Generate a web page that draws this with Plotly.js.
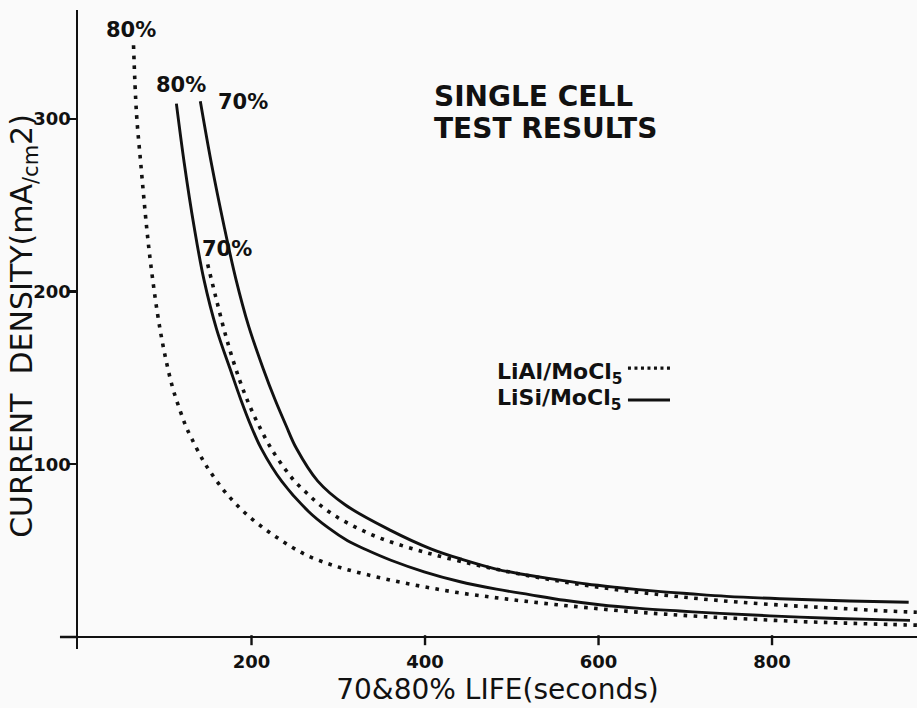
<!DOCTYPE html>
<html><head><meta charset="utf-8">
<script src="https://cdn.plot.ly/plotly-3.0.1.min.js"></script>
<style>html,body{margin:0;padding:0;background:#fafafa;}</style>
</head><body>
<div id="chart" style="width:917px;height:708px;"></div>
<script>
// LiAl/MoCl5, 80% life (dotted, leftmost)
const liAl80X = [64.0, 67.4, 72.3, 79.1, 83.7, 91.5, 99.0, 108.8, 117.3, 124.5, 131.6, 143.5, 152.9, 167.0, 179.9, 196.3, 214.9, 231.3, 248.7, 266.1, 285.9, 303.2, 324.1, 361.1, 399.2, 437.4, 476.7, 511.3, 549.4, 589.8, 635.9, 676.4, 722.5, 774.5, 832.2, 884.1, 936.0, 967.0];
const liAl80Y = [342.6, 303.3, 274.4, 237.3, 216.5, 187.6, 166.2, 144.8, 131.6, 121.8, 114.3, 102.8, 95.3, 85.5, 78.1, 70.1, 62.6, 56.9, 51.3, 46.7, 42.8, 40.0, 37.2, 32.8, 29.0, 25.7, 23.0, 20.9, 18.8, 16.8, 14.7, 13.2, 11.7, 10.3, 8.9, 8.0, 7.2, 6.8];
// LiAl/MoCl5, 70% life (dotted)
const liAl70X = [149.5, 158.6, 171.4, 185.9, 197.9, 208.6, 222.8, 238.2, 249.9, 263.9, 279.1, 300.1, 321.0, 340.7, 361.6, 398.6, 441.5, 491.2, 537.5, 583.7, 629.9, 676.1, 716.5, 762.6, 820.4, 872.3, 924.2, 966.9];
const liAl70Y = [215.7, 197.2, 172.4, 149.3, 133.8, 122.3, 109.0, 97.5, 90.1, 83.2, 76.3, 68.9, 63.3, 58.7, 54.8, 49.2, 43.7, 38.2, 33.8, 30.0, 26.8, 24.2, 22.1, 20.1, 18.1, 16.7, 15.2, 14.3];
// LiSi/MoCl5, 80% life (solid)
const liSi80X = [113.4, 122.4, 133.8, 145.1, 159.8, 175.4, 187.4, 199.4, 211.3, 234.9, 265.4, 288.7, 310.8, 331.7, 360.7, 399.0, 439.5, 482.3, 520.4, 560.9, 601.3, 647.5, 693.6, 739.8, 797.5, 866.7, 924.4, 959.0];
const liSi80Y = [308.8, 274.6, 237.6, 207.0, 178.1, 155.1, 137.8, 122.2, 109.0, 90.0, 72.8, 63.1, 55.7, 50.6, 44.4, 37.7, 32.1, 27.7, 24.5, 21.2, 18.6, 16.5, 15.0, 13.6, 12.2, 10.8, 10.0, 9.6];
// LiSi/MoCl5, 70% life (solid)
const liSi70X = [141.0, 153.5, 168.4, 182.0, 196.6, 213.5, 226.6, 239.8, 251.7, 276.4, 307.9, 360.3, 406.7, 442.6, 482.0, 508.5, 550.1, 586.0, 624.1, 665.6, 704.9, 747.6, 808.7, 889.5, 957.5];
const liSi70Y = [310.1, 274.8, 237.8, 207.2, 180.1, 155.3, 138.0, 122.4, 109.2, 90.2, 76.5, 61.7, 51.0, 44.9, 39.3, 36.6, 33.3, 30.6, 28.5, 26.5, 25.0, 23.5, 22.1, 20.8, 20.1];

const xTickVals = [200, 400, 600, 800];
const yTickVals = [100, 200, 300];
const seriesNames = ['LiAl/MoCl5 80%', 'LiAl/MoCl5 70%', 'LiSi/MoCl5 80%', 'LiSi/MoCl5 70%'];
const legendLabels = ['LiAl/MoCl<sub>5</sub>', 'LiSi/MoCl<sub>5</sub>'];
const curveLabels = ['80%', '80%', '70%', '70%'];

const ink = '#111111';
const bg = '#fafafa';
const dottedLine = {color: ink, width: 3.6, dash: '3.6px,6.4px', shape: 'spline', smoothing: 1};
const solidLine = {color: ink, width: 2.9, shape: 'spline', smoothing: 1};

const traces = [
  {x: liAl80X, y: liAl80Y, name: seriesNames[0], mode: 'lines', line: dottedLine},
  {x: liAl70X, y: liAl70Y, name: seriesNames[1], mode: 'lines', line: dottedLine},
  {x: liSi80X, y: liSi80Y, name: seriesNames[2], mode: 'lines', line: solidLine},
  {x: liSi70X, y: liSi70Y, name: seriesNames[3], mode: 'lines', line: solidLine}
];

const boldFont = (s) => ({family: 'DejaVu Sans', size: s, color: ink, weight: 'bold'});

const shapes = [];
// x-axis tick marks crossing the axis line
xTickVals.forEach(v => shapes.push({type: 'line', xref: 'x', yref: 'y', x0: v, x1: v, y0: 1, y1: -4.8, line: {color: ink, width: 2.4}}));
// left overhang of the x-axis line
shapes.push({type: 'line', xref: 'paper', yref: 'paper', x0: -0.0215, x1: 0, y0: 0.01878, y1: 0.01878, line: {color: ink, width: 2.5}});
// legend samples
shapes.push({type: 'line', xref: 'paper', yref: 'paper', x0: 0.6555, x1: 0.7056, y0: 0.4397, y1: 0.4397, line: {color: ink, width: 3.2, dash: '3px,3.5px'}});
shapes.push({type: 'line', xref: 'paper', yref: 'paper', x0: 0.6555, x1: 0.7056, y0: 0.3897, y1: 0.3897, line: {color: ink, width: 2.9}});

const annotations = [
  {xref: 'x', yref: 'y', x: 61.4, y: 351.5, text: curveLabels[0], showarrow: false, font: boldFont(21)},
  {xref: 'x', yref: 'y', x: 118.8, y: 319.6, text: curveLabels[1], showarrow: false, font: boldFont(21)},
  {xref: 'x', yref: 'y', x: 190.5, y: 309.8, text: curveLabels[2], showarrow: false, font: boldFont(21)},
  {xref: 'x', yref: 'y', x: 172.3, y: 224.7, text: curveLabels[3], showarrow: false, font: boldFont(21)},
  {xref: 'paper', yref: 'paper', x: 0.4219, y: 0.8654, xanchor: 'left', yanchor: 'middle', text: 'SINGLE CELL', showarrow: false, font: boldFont(28)},
  {xref: 'paper', yref: 'paper', x: 0.4219, y: 0.8153, xanchor: 'left', yanchor: 'middle', text: 'TEST RESULTS', showarrow: false, font: boldFont(28)},
  {xref: 'paper', yref: 'paper', x: 0.497, y: 0.4304, xanchor: 'left', yanchor: 'middle', text: legendLabels[0], showarrow: false, font: boldFont(22)},
  {xref: 'paper', yref: 'paper', x: 0.497, y: 0.3912, xanchor: 'left', yanchor: 'middle', text: legendLabels[1], showarrow: false, font: boldFont(22)},
  {xref: 'paper', yref: 'paper', x: -0.0645, y: 0.5055, xanchor: 'center', yanchor: 'middle', textangle: -90,
   text: 'CURRENT  DENSITY(mA<sub>/cm</sub>2)', showarrow: false, font: {family: 'DejaVu Sans', size: 30, color: ink}}
];

const layout = {
  width: 917, height: 708,
  margin: {l: 78, r: 0, t: 10, b: 59, pad: 0},
  paper_bgcolor: bg, plot_bgcolor: bg,
  showlegend: false,
  xaxis: {
    range: [0, 967.1], showgrid: false, zeroline: false, showline: false,
    ticks: '', tickvals: xTickVals, tickfont: boldFont(18), automargin: false,
    title: {text: '70&80% LIFE(seconds)', font: {family: 'DejaVu Sans', size: 28, color: ink}, standoff: 8}
  },
  yaxis: {
    range: [-7, 363], showgrid: false,
    zeroline: true, zerolinecolor: ink, zerolinewidth: 2.5,
    showline: true, linecolor: ink, linewidth: 2.5,
    ticks: 'outside', ticklen: 9, tickwidth: 2.4, tickcolor: ink,
    tickvals: yTickVals, tickfont: boldFont(18), ticklabelstandoff: -8, automargin: false
  },
  shapes: shapes,
  annotations: annotations
};

Plotly.newPlot('chart', traces, layout, {displayModeBar: false, staticPlot: true});
</script>
</body></html>
